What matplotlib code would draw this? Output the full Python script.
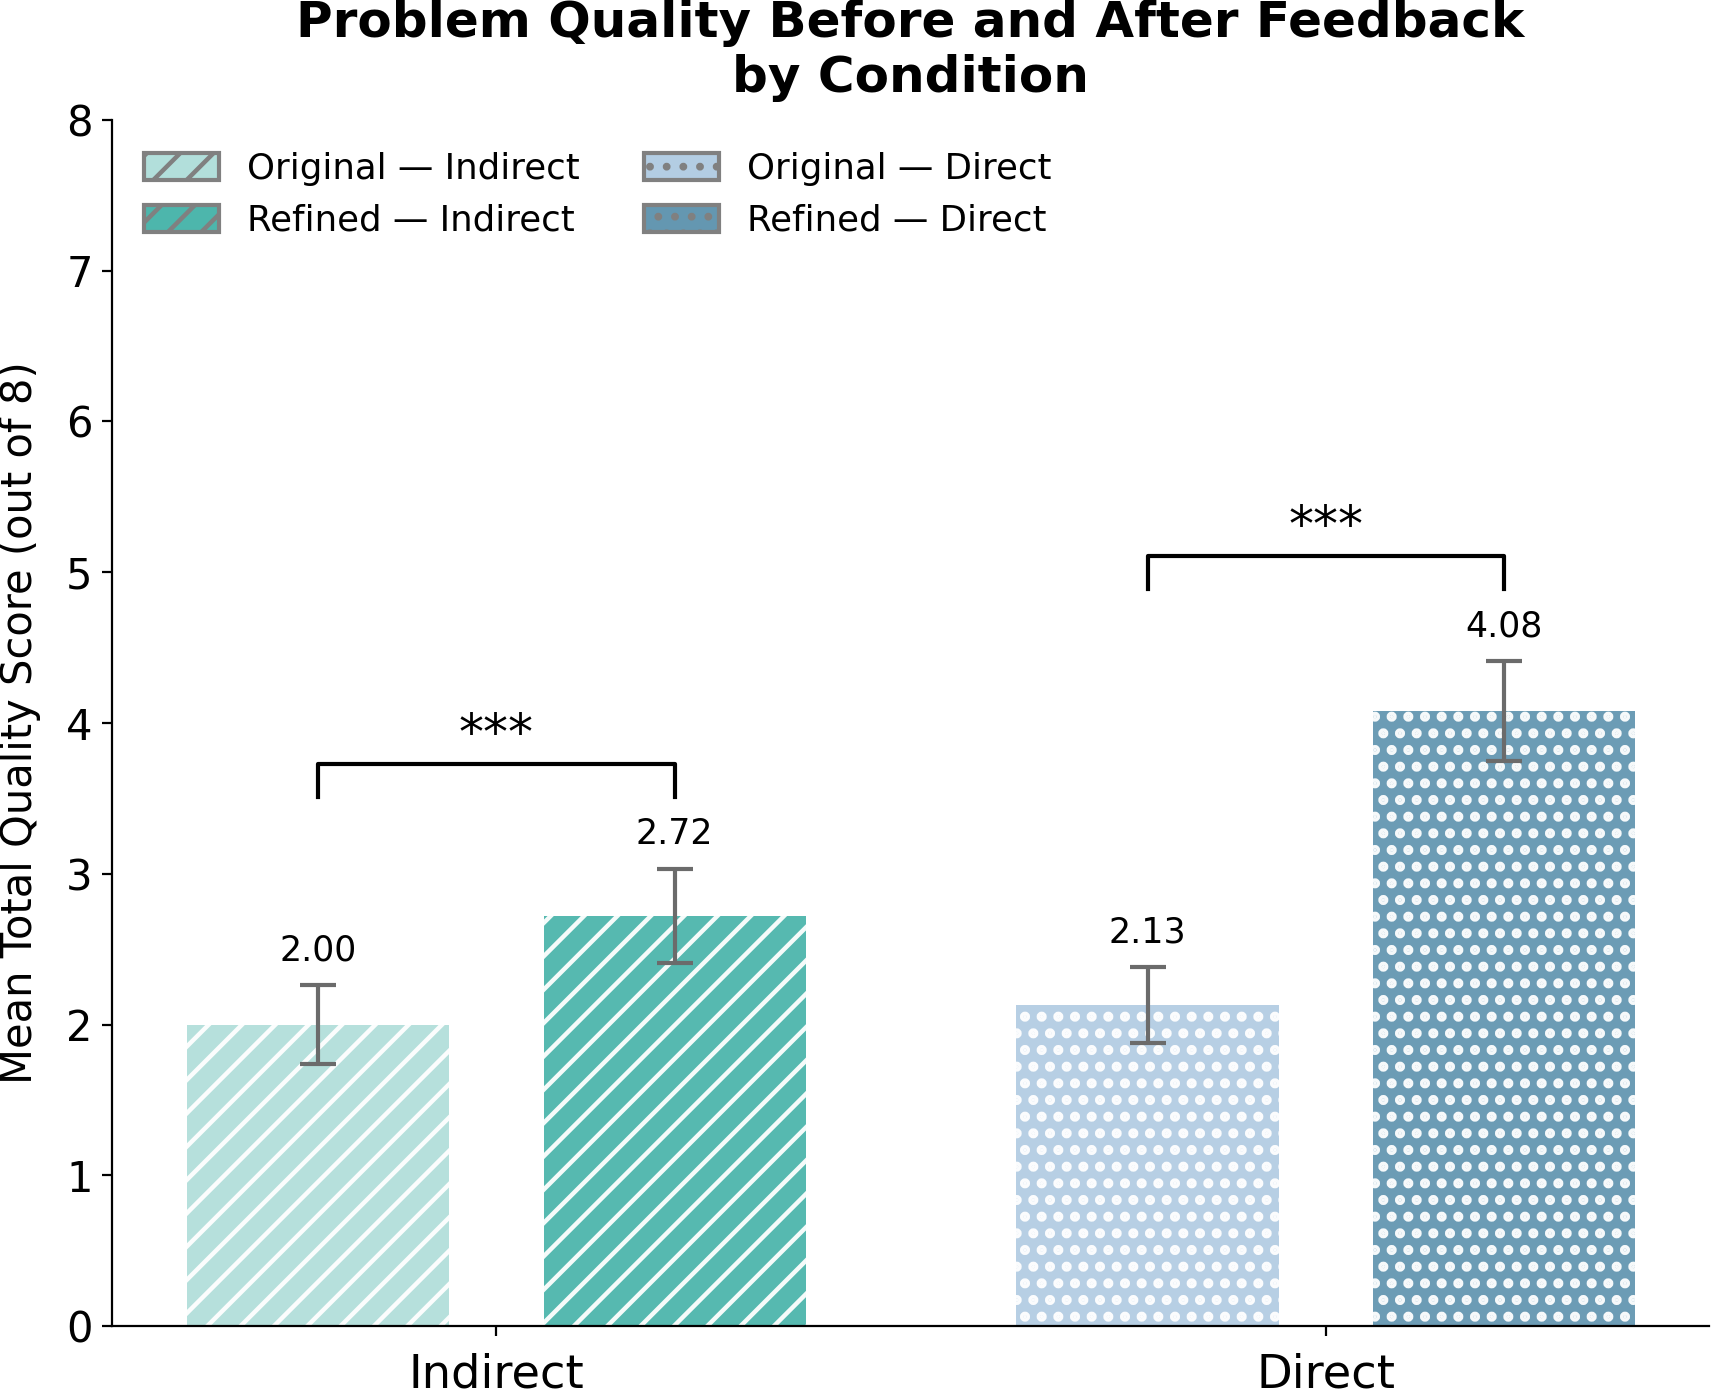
import matplotlib
matplotlib.use('Agg')
import matplotlib.pyplot as plt
from matplotlib.patches import Patch
import numpy as np

# data
conditions = ["Indirect", "Direct"]
original_means = [2.00, 2.13]
refined_means = [2.72, 4.08]
original_err = [0.26, 0.25]
refined_err = [0.31, 0.33]
sig_labels = ["***", "***"]

orig_colors = ["#b2dfdb", "#b3cde3"]
ref_colors = ["#4db6ac", "#6497b1"]
hatches = ["//", ".."]
hatch_lw = [1.6, 2.4]

plt.rcParams['hatch.linewidth'] = 1.6

fig = plt.figure(figsize=(8.555, 6.95), dpi=200)
ax = fig.add_axes([0.0655, 0.046, 0.9335, 0.8677])

x = np.arange(len(conditions))
width = 0.316
off = 0.215

for i in range(len(conditions)):
    for xpos, val, err, col in [(x[i] - off, original_means[i], original_err[i], orig_colors[i]),
                                (x[i] + off, refined_means[i], refined_err[i], ref_colors[i])]:
        bars = ax.bar(xpos, val, width, color=col, edgecolor='white', linewidth=0,
                      hatch=hatches[i], alpha=0.95)
        for b in bars:
            if hasattr(b, 'set_hatch_linewidth'):
                b.set_hatch_linewidth(hatch_lw[i])
        ax.errorbar(xpos, val, yerr=err, fmt='none', ecolor='#6b6b6b', elinewidth=1.5,
                    capsize=6.5, capthick=1.5)
        ax.text(xpos, val + err + 0.12, "{:.2f}".format(val), ha='center', va='bottom', fontsize=12.5)

    # significance bracket
    top = max(original_means[i] + original_err[i], refined_means[i] + refined_err[i]) + 0.7
    x1, x2 = x[i] - off, x[i] + off
    ax.plot([x1, x1, x2, x2], [top - 0.22, top, top, top - 0.22], color='black', lw=1.5)
    ax.text(x[i], top + 0.03, sig_labels[i], ha='center', va='bottom', fontsize=18)

ax.set_xlim(-0.463, 1.462)
ax.set_ylim(0, 8)
ax.set_xticks(x)
ax.set_xticklabels(conditions, fontsize=16.7)
ax.tick_params(axis='x', pad=6)
ax.tick_params(axis='y', labelsize=15)
ax.set_ylabel("Mean Total Quality Score (out of 8)", fontsize=15, labelpad=9)
ax.set_title("Problem Quality Before and After Feedback\nby Condition", fontsize=18,
             fontweight='bold', pad=10)
ax.spines['top'].set_visible(False)
ax.spines['right'].set_visible(False)

handles = []
labels = []
for i, c in enumerate(conditions):
    handles.append(Patch(facecolor=orig_colors[i], edgecolor='gray', hatch=hatches[i], linewidth=1.5))
    labels.append("Original \u2014 " + c)
    handles.append(Patch(facecolor=ref_colors[i], edgecolor='gray', hatch=hatches[i], linewidth=1.5))
    labels.append("Refined \u2014 " + c)
ax.legend(handles, labels, ncol=2, loc='upper left', frameon=False, fontsize=12.8,
          handlelength=2.1, handleheight=0.8, columnspacing=1.8)

fig.savefig("out.png", dpi=200)
